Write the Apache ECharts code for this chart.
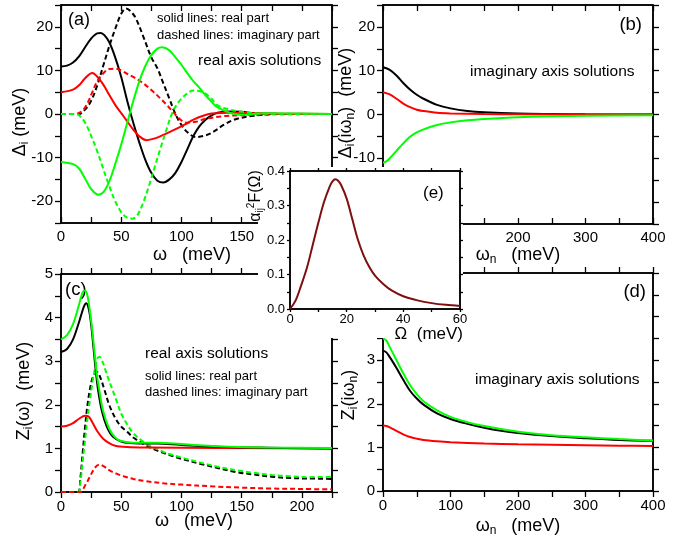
<!DOCTYPE html>
<html><head><meta charset="utf-8">
<script src="https://cdn.jsdelivr.net/npm/echarts@6/dist/echarts.min.js"></script>
<style>html,body{margin:0;padding:0;background:#fff}#c{width:684px;height:540px}</style>
</head><body><div id="c"></div>
<script>
// ---------- data ----------
// (a) real-axis gap functions Delta_i(omega), omega in meV
const aReBlack = [[0,10.9],[5,11.1],[10,11.8],[15,13.2],[20,15.3],[25,17.3],[30,18.5],[33,18.6],[36,18.1],[40,16.5],[45,13],[50,8.5],[55,3],[60,-2],[65,-6.5],[70,-10.5],[75,-13.5],[80,-15.3],[85,-15.7],[90,-15],[95,-13.5],[100,-11],[105,-8],[110,-5],[115,-2.8],[120,-1.3],[125,-0.3],[130,0.3],[140,0.6],[150,0.5],[160,0.2],[180,0],[225,0]];
const aImBlack = [[0,0],[15,0],[20,1],[25,3],[30,6.5],[35,11],[40,15.5],[45,19.5],[50,23],[54,24.2],[58,23.5],[62,22],[68,18],[75,13],[80,10.5],[85,7],[90,3.5],[95,0],[100,-2.5],[105,-4.2],[112,-5.3],[120,-4.9],[127,-4],[135,-2.5],[145,-1.2],[160,-0.4],[180,0],[225,0]];
const aReRed = [[0,5],[10,5.6],[15,6.6],[20,8.2],[26,9.4],[30,8.6],[35,6.8],[40,4.4],[45,2.1],[50,0.2],[55,-1.7],[60,-3.6],[65,-5.1],[71,-6],[78,-5.6],[85,-4.8],[95,-3.5],[103,-2.4],[110,-1.3],[118,-0.4],[125,0.1],[140,0.3],[160,0.2],[180,0.1],[225,0]];
const aImRed = [[0,0],[12,0],[18,0.8],[22,2.5],[26,5],[30,7.5],[35,9.3],[40,10.3],[45,10.4],[50,10],[55,9.2],[60,8.5],[68,7.1],[75,5.5],[82,3.7],[88,2],[93,0.5],[98,-1],[104,-2],[112,-1.8],[120,-1.1],[135,-0.5],[150,-0.3],[170,-0.1],[225,0]];
const aReGreen = [[0,-11],[10,-11.5],[15,-12.5],[20,-14.8],[25,-17.2],[31,-18.5],[35,-18],[40,-15.5],[45,-11.5],[50,-7],[55,-2],[60,3],[65,7.5],[70,11],[75,13.5],[80,15],[84,15.3],[90,14.6],[95,13],[100,11.3],[105,9.3],[110,7.5],[115,6],[120,4.3],[125,2.8],[130,1.5],[140,0.3],[150,-0.2],[170,0.2],[200,0.1],[225,0]];
const aImGreen = [[0,0],[12,0],[15,-0.3],[20,-2],[25,-5],[30,-8.5],[35,-12.5],[40,-16.5],[45,-20],[50,-22.5],[55,-23.8],[59,-24],[63,-23.4],[68,-20.5],[73,-16.5],[78,-12],[83,-7.5],[88,-3.2],[92,0],[97,2.5],[103,4.3],[110,5.4],[118,5],[125,3.5],[130,2],[140,1],[150,0.5],[165,0.1],[225,0]];
// (b) imaginary-axis gap functions Delta_i(i omega_n)
const bBlack = [[0,10.8],[10,10.2],[20,8.9],[30,7.2],[40,5.7],[50,4.5],[60,3.6],[80,2.2],[100,1.4],[125,0.8],[150,0.5],[200,0.2],[250,0.1],[300,0.05],[400,0]];
const bRed = [[0,5.1],[10,4.6],[20,3.6],[30,2.5],[40,1.7],[50,1.1],[60,0.8],[80,0.4],[100,0.25],[150,0.1],[200,0.05],[400,0]];
const bGreen = [[0,-11],[5,-10.7],[10,-10],[20,-8.3],[30,-6.6],[40,-5.1],[50,-4.1],[60,-3.4],[80,-2.4],[100,-1.8],[125,-1.3],[150,-1.0],[200,-0.6],[250,-0.4],[300,-0.3],[400,-0.15]];
// (c) real-axis renormalization Z_i(omega)
const cReBlack = [[0,3.21],[5,3.28],[10,3.5],[15,3.9],[19,4.25],[21,4.33],[23,4.2],[25,3.85],[27,3.3],[29,2.75],[31,2.3],[34,1.85],[38,1.5],[43,1.27],[50,1.16],[60,1.12],[80,1.11],[100,1.08],[130,1.04],[160,1.02],[225,1.0]];
const cReGreen = [[0,3.5],[5,3.6],[10,3.85],[15,4.3],[18,4.58],[20,4.62],[22,4.5],[24,4.15],[26,3.7],[28,3.15],[30,2.65],[32,2.3],[35,1.85],[40,1.45],[45,1.25],[50,1.17],[60,1.13],[80,1.13],[90,1.12],[110,1.08],[140,1.04],[170,1.02],[225,1.01]];
const cReRed = [[0,1.5],[5,1.52],[10,1.58],[15,1.68],[20,1.75],[23,1.73],[26,1.6],[30,1.4],[35,1.22],[40,1.12],[45,1.06],[55,1.03],[70,1.02],[225,1.0]];
const cImBlack = [[0,0],[14,0],[16,0.3],[18,0.9],[20,1.5],[22,2.0],[24,2.35],[26,2.6],[28,2.72],[30,2.75],[33,2.6],[36,2.35],[40,2.0],[45,1.7],[50,1.5],[55,1.38],[60,1.25],[70,1.08],[80,0.95],[90,0.85],[100,0.76],[115,0.65],[130,0.55],[145,0.46],[160,0.4],[175,0.35],[190,0.32],[205,0.31],[225,0.3]];
const cImGreen = [[0,0],[14,0],[16,0.2],[18,0.7],[20,1.2],[22,1.7],[24,2.1],[26,2.5],[28,2.8],[30,3.05],[32,3.1],[35,2.95],[38,2.7],[42,2.4],[46,2.1],[50,1.8],[55,1.55],[60,1.35],[70,1.12],[80,0.98],[90,0.87],[100,0.79],[115,0.68],[130,0.58],[145,0.5],[160,0.44],[175,0.39],[190,0.36],[205,0.34],[225,0.35]];
const cImRed = [[0,0],[16,0],[20,0.15],[24,0.35],[28,0.55],[32,0.63],[36,0.58],[40,0.5],[46,0.42],[52,0.36],[60,0.3],[70,0.25],[85,0.2],[100,0.17],[125,0.13],[150,0.1],[175,0.08],[200,0.07],[225,0.06]];
// (d) imaginary-axis renormalization Z_i(i omega_n)
const dBlack = [[0,3.22],[5,3.18],[10,3.07],[15,2.95],[20,2.82],[30,2.55],[40,2.3],[50,2.12],[60,1.98],[80,1.78],[100,1.65],[125,1.54],[150,1.45],[175,1.38],[200,1.33],[250,1.26],[300,1.21],[350,1.17],[400,1.15]];
const dGreen = [[0,3.5],[5,3.45],[10,3.3],[15,3.15],[20,3.0],[30,2.7],[40,2.43],[50,2.22],[60,2.06],[80,1.85],[100,1.7],[125,1.58],[150,1.49],[175,1.42],[200,1.36],[250,1.28],[300,1.23],[350,1.19],[400,1.16]];
const dRed = [[0,1.5],[5,1.49],[10,1.46],[20,1.38],[30,1.3],[40,1.24],[50,1.2],[60,1.17],[80,1.14],[100,1.12],[150,1.09],[200,1.07],[250,1.06],[300,1.05],[350,1.04],[400,1.03]];
// (e) spectral function alpha^2 F(Omega)
const eSpectrum = [[0,0],[2,0.025],[4,0.07],[6,0.12],[8,0.185],[10,0.25],[12,0.31],[14,0.355],[15,0.37],[16,0.376],[17,0.372],[18,0.36],[20,0.32],[22,0.26],[24,0.2],[26,0.155],[28,0.122],[30,0.097],[33,0.072],[36,0.053],[40,0.037],[45,0.025],[50,0.017],[55,0.012],[60,0.009]];

// tick labels (major) and tick spacing
const ticksW = [0,50,100,150,200];
const ticksWn = [0,100,200,300,400];
const ticksDelta = [-20,-10,0,10,20];
const ticksZ = [0,1,2,3,4,5];
const ticksOm = [0,20,40,60];
const ticksF = [0,0.1,0.2,0.3,0.4];

// ---------- build ----------
const FONT = '"Liberation Sans", Arial, Helvetica, sans-serif';
const BLACK = '#000000', RED = '#ff0000', GREEN = '#00ff00', DRED = '#7f0f0f';
const grids = [
  {left:61, top:5, width:271, height:218, z:0},
  {left:383, top:5, width:270, height:219, z:0},
  {left:61, top:274, width:271, height:218, z:0},
  {left:383, top:273, width:270, height:218, z:0},
  {left:290, top:171, width:170, height:138, z:55}
].map(g => Object.assign({show:true, borderColor:'#000', borderWidth:1.5, backgroundColor:'transparent', containLabel:false, outerBoundsMode:'none'}, g));

const xAxes = [], yAxes = [];
function addSide(kind, gi, r, pos, withLabels, o, inside) {
  const list = kind === 'x' ? xAxes : yAxes;
  const idx = list.length;
  list.push({
    gridIndex: gi, type:'value', min:r.min, max:r.max, interval:r.step, position:pos, z:o.z,
    splitLine:{show:false}, silent:true,
    axisLine:{show:true, onZero:false, lineStyle:{color:'#000', width:1.5}},
    axisTick:{show:true, inside:!!inside, length:o.tl, lineStyle:{color:'#000', width:1.3}},
    axisLabel:{show:withLabels, color:'#000', fontSize:o.fs, fontFamily:FONT,
      margin: kind === 'y' ? o.ym : o.xm,
      showMinLabel:true, showMaxLabel:true,
      formatter: v => r.maj.some(t => Math.abs(t - v) < 1e-7) ? (r.dec ? v.toFixed(r.dec) : String(Math.round(v))) : ''}
  });
  return idx;
}
function frame(gi, X, Y, o) {
  const xi = addSide('x', gi, X, 'bottom', true, o, o.xin);
  addSide('x', gi, X, 'top', false, o, o.xin);
  const yi = addSide('y', gi, Y, 'left', true, o, false);
  addSide('y', gi, Y, 'right', false, o, false);
  return [xi, yi];
}
const bigIn = {z:0, fs:15, xm:6, ym:8, tl:6, xin:true};
const bigOut = {z:0, fs:15, xm:7, ym:8, tl:6, xin:false};
const small = {z:60, fs:13, xm:4, ym:5, tl:3, xin:false};
const A = frame(0, {min:0,max:225,step:25,maj:ticksW}, {min:-25,max:25,step:5,maj:ticksDelta}, bigIn);
const B = frame(1, {min:0,max:400,step:50,maj:ticksWn}, {min:-25,max:25,step:5,maj:ticksDelta}, bigIn);
const C = frame(2, {min:0,max:225,step:25,maj:ticksW}, {min:0,max:5,step:0.5,maj:ticksZ}, bigOut);
const D = frame(3, {min:0,max:400,step:50,maj:ticksWn}, {min:0,max:5,step:0.5,maj:ticksZ}, bigOut);
const E = frame(4, {min:0,max:60,step:10,maj:ticksOm}, {min:0,max:0.4,step:0.05,maj:ticksF,dec:1}, small);

function line(data, color, dashed, ax, z) {
  return {type:'line', data, xAxisIndex:ax[0], yAxisIndex:ax[1], symbol:'none', showSymbol:false, smooth:0.35,
    silent:true, z: z || 2, lineStyle:{color, width:2, type: dashed ? [5,3] : 'solid'}};
}
const series = [
  line(aReBlack, BLACK, false, A), line(aImBlack, BLACK, true, A),
  line(aReRed, RED, false, A), line(aImRed, RED, true, A),
  line(aReGreen, GREEN, false, A), line(aImGreen, GREEN, true, A),
  line(bBlack, BLACK, false, B), line(bRed, RED, false, B), line(bGreen, GREEN, false, B),
  line(cImBlack, BLACK, true, C), line(cImGreen, GREEN, true, C), line(cImRed, RED, true, C),
  line(cReRed, RED, false, C), line(cReBlack, BLACK, false, C), line(cReGreen, GREEN, false, C),
  line(dRed, RED, false, D), line(dBlack, BLACK, false, D), line(dGreen, GREEN, false, D),
  line(eSpectrum, DRED, false, E, 61)
];

function rich(fs) {
  const s = Math.round(fs * 0.65);
  return {
    s:{fontSize:s, fontFamily:FONT, fill:'#000', color:'#000', padding:[Math.round(fs*0.55),0,0,0]},
    p:{fontSize:s, fontFamily:FONT, fill:'#000', color:'#000', padding:[0,0,Math.round(fs*0.55),0]}
  };
}
function txt(x, y, text, fs, align, z, rot) {
  return {type:'text', x, y, rotation: rot || 0, z: z || 1, silent:true,
    style:{text, fontSize:fs, fontFamily:FONT, fill:'#000', align: align || 'left', verticalAlign:'middle', rich: rich(fs)}};
}
const R90 = Math.PI / 2;
const graphics = [
  {type:'rect', shape:{x:258, y:167, width:205, height:171}, style:{fill:'#ffffff'}, z:50, silent:true},
  // panel (a)
  txt(68, 20, '(a)', 18), txt(157, 18, 'solid lines: real part', 13), txt(157, 35, 'dashed lines: imaginary part', 13),
  txt(198, 61, 'real axis solutions', 15.5),
  txt(20, 122, 'Δ{s|i} (meV)', 18, 'center', 1, R90),
  txt(192, 255, 'ω   (meV)', 18, 'center'),
  // panel (b)
  txt(642, 25, '(b)', 18.5, 'right'), txt(470, 72, 'imaginary axis solutions', 15.5),
  txt(346, 103, 'Δ{s|i}(iω{s|n})  (meV)', 18, 'center', 1, R90),
  txt(518, 255, 'ω{s|n}   (meV)', 18, 'center'),
  // panel (c)
  txt(65, 290, '(c)', 18.5), txt(145, 354, 'real axis solutions', 15.5),
  txt(145, 376, 'solid lines: real part', 13), txt(145, 392, 'dashed lines: imaginary part', 13),
  txt(24, 391, 'Z{s|i}(ω)  (meV)', 18, 'center', 1, R90),
  txt(194, 521, 'ω   (meV)', 18, 'center'),
  // panel (d)
  txt(646, 292, '(d)', 18.5, 'right'), txt(475, 380, 'imaginary axis solutions', 15.5),
  txt(349, 395, 'Z{s|i}(iω{s|n})', 18, 'center', 1, R90),
  txt(518, 526, 'ω{s|n}   (meV)', 18, 'center'),
  // inset (e)
  txt(423, 193, '(e)', 17, 'left', 70),
  txt(256, 196, 'α{s|ij}{p|2}F(Ω)', 16, 'center', 70, R90),
  txt(463, 334, 'Ω  (meV)', 17, 'right', 70)
];

const chart = echarts.init(document.getElementById('c'), null, {renderer:'canvas'});
chart.setOption({
  animation:false,
  backgroundColor:'#ffffff',
  grid: grids,
  xAxis: xAxes,
  yAxis: yAxes,
  series,
  graphic: {elements: graphics}
});
</script></body></html>
